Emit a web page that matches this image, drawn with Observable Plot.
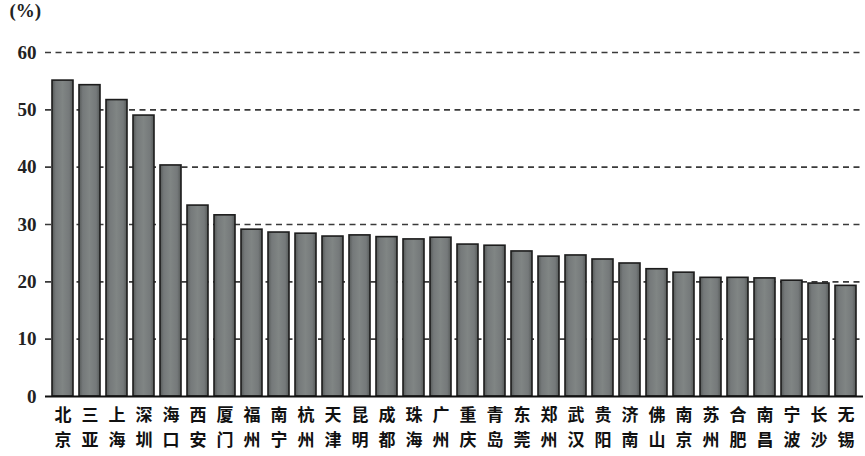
<!DOCTYPE html>
<html>
<head>
<meta charset="utf-8">
<script src="https://cdn.jsdelivr.net/npm/d3@7"></script>
<script src="https://cdn.jsdelivr.net/npm/@observablehq/plot@0.6"></script>
<style>
  html, body { margin: 0; padding: 0; background: #fff; }
  #chart { width: 865px; height: 456px; overflow: hidden; }
</style>
</head>
<body>
<div id="chart"></div>
<script>
const cities = ["北京","三亚","上海","深圳","海口","西安","厦门","福州","南宁","杭州",
  "天津","昆明","成都","珠海","广州","重庆","青岛","东莞","郑州","武汉",
  "贵阳","济南","佛山","南京","苏州","合肥","南昌","宁波","长沙","无锡"];
const values = [55.1, 54.3, 51.7, 49.0, 40.3, 33.3, 31.6, 29.1, 28.6, 28.4,
  27.9, 28.1, 27.8, 27.4, 27.7, 26.5, 26.3, 25.3, 24.4, 24.6,
  23.9, 23.2, 22.2, 21.6, 20.7, 20.7, 20.6, 20.2, 19.7, 19.3];
const yTicks = [0, 10, 20, 30, 40, 50, 60];
const gridTicks = [10, 20, 30, 40, 50, 60];

const data = cities.map((c, i) => ({city: c, value: values[i]}));

const xLabelStyle = {tickSize: 0, fontSize: 17, fontWeight: "bold", fontFamily: "Noto Sans CJK SC", fill: "#111", label: null};

const plot = Plot.plot({
  width: 865,
  height: 456,
  marginLeft: 45,
  marginRight: 2,
  marginTop: 52,
  marginBottom: 60,
  style: {background: "#fff", color: "#1a1a1a"},
  x: {domain: cities, paddingInner: 0.236, paddingOuter: 0},
  y: {domain: [0, 60]},
  marks: [
    Plot.ruleY(gridTicks, {stroke: "#3a3a3a", strokeWidth: 1.6, strokeDasharray: "6,4.5"}),
    Plot.barY(data, {x: "city", y: "value", fill: "url(#barGrad)", stroke: "#1c1c1c", strokeWidth: 1.6}),
    Plot.ruleY([0], {stroke: "#111", strokeWidth: 2.2}),
    Plot.axisY({ticks: yTicks, tickSize: 0, tickPadding: 9, fontSize: 19, fontFamily: "Liberation Serif", fontWeight: "bold", fill: "#222",
      label: "(%)", labelAnchor: "top", labelArrow: "none", labelOffset: 36}),
    Plot.axisX({...xLabelStyle, tickPadding: 12, tickFormat: d => d[0]}),
    Plot.axisX({...xLabelStyle, tickPadding: 37, tickFormat: d => d[1]})
  ]
});

const defs = d3.select(plot).insert("defs", ":first-child");
const g = defs.append("linearGradient").attr("id", "barGrad").attr("x1", "0").attr("x2", "1").attr("y1", "0").attr("y2", "0");
[[0, "#555958"], [0.18, "#75797a"], [0.5, "#808584"], [0.82, "#75797a"], [1, "#555958"]].forEach(([o, c]) =>
  g.append("stop").attr("offset", o).attr("stop-color", c));

document.getElementById("chart").appendChild(plot);
</script>
</body>
</html>
